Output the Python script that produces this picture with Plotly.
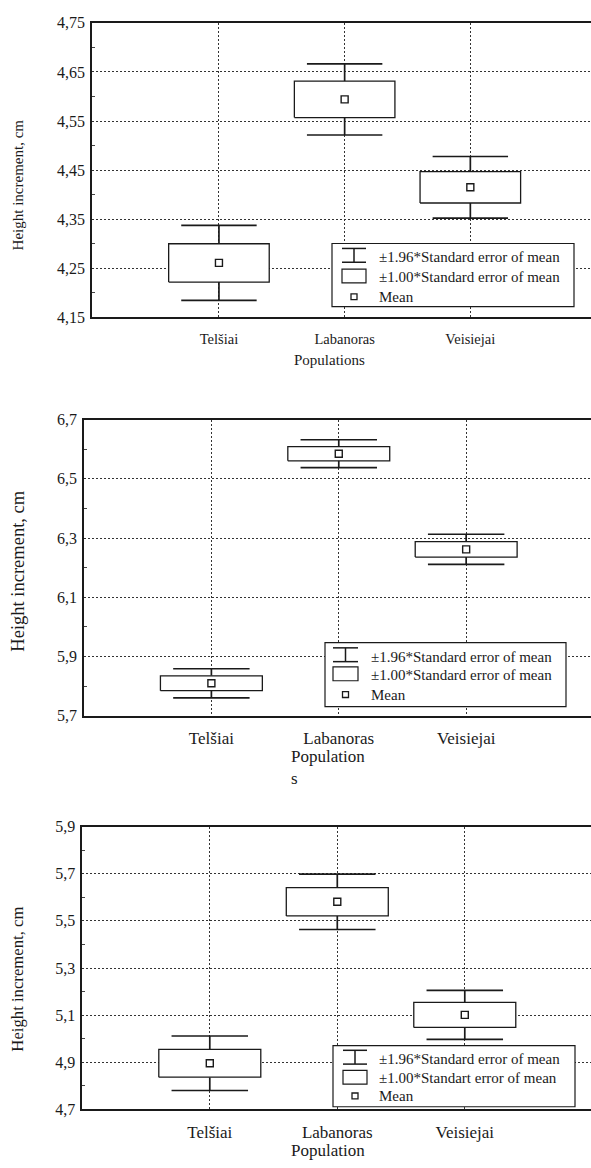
import plotly.graph_objects as go

# ---------------- data ----------------
categories = ["Telšiai", "Labanoras", "Veisiejai"]

mean_1 = [4.261, 4.594, 4.415]
se_1 = [0.039, 0.037, 0.032]

mean_2 = [5.810, 6.585, 6.262]
se_2 = [0.025, 0.024, 0.026]

mean_3 = [4.896, 5.581, 5.101]
se_3 = [0.059, 0.060, 0.053]

y_title = "Height increment, cm"
x_title_1 = "Populations"
x_title_2 = "Population<br>s"
x_title_3 = "Population"

legend_1 = ["±1.96*Standard error of mean", "±1.00*Standard error of mean", "Mean"]
legend_2 = ["±1.96*Standard error of mean", "±1.00*Standard error of mean", "Mean"]
legend_3 = ["±1.96*Standard error of mean", "±1.00*Standart error of mean", "Mean"]

WHISKER_K = 1.96

# ---------------- layout constants (pixels) ----------------
W, H = 591, 1168
FONT = "Liberation Serif"
INK = "#1a1a1a"
BOX_HALF = 0.40
CAP_HALF = 0.30


def fx(x):
    return x / W


def fy(y):
    return 1 - y / H


panels = [
    dict(mean=mean_1, se=se_1, left=92, top=15, bottom=314, xr=[-1.01, 2.96],
         yr=[4.15, 4.75], dtick=0.1, fmt=".2f", cat_font=14.5, cat_standoff=7,
         yt_font=15, yt_pos=(18, 180),
         xt=x_title_1, xt_font=15, xt_pos=(292, 357),
         leg=legend_1, leg_box=(332, 239, 574, 303), rows=[253, 273, 293],
         sym=(342, 366), text_x=377),
    dict(mean=mean_2, se=se_2, left=84, top=417.7, bottom=718.3, xr=[-1.0, 2.98],
         yr=[5.7, 6.7], dtick=0.2, fmt=".1f", cat_font=17, cat_standoff=6,
         yt_font=18.5, yt_pos=(18, 572),
         xt=x_title_2, xt_font=17, xt_pos=(289, 771),
         leg=legend_2, leg_box=(325, 644, 566, 709), rows=[658.3, 676.7, 696.7],
         sym=(333, 358), text_x=369),
    dict(mean=mean_3, se=se_3, left=82.3, top=830.7, bottom=1117.7, xr=[-1.0, 2.99],
         yr=[4.7, 5.9], dtick=0.2, fmt=".1f", cat_font=17, cat_standoff=6,
         yt_font=16.7, yt_pos=(18, 986),
         xt=x_title_3, xt_font=17, xt_pos=(289, 1159),
         leg=legend_3, leg_box=(333, 1053, 575, 1115), rows=[1066.7, 1086, 1104],
         sym=(343, 367), text_x=377),
]

fig = go.Figure()
shapes = []
annotations = []
layout_axes = {}

for k, p in enumerate(panels, start=1):
    xa = "x" if k == 1 else f"x{k}"
    ya = "y" if k == 1 else f"y{k}"
    m, s = p["mean"], p["se"]
    xs = list(range(len(categories)))

    # whiskers (stem + caps)
    wx, wy = [], []
    for i, (mi, si) in enumerate(zip(m, s)):
        hi, lo = mi + WHISKER_K * si, mi - WHISKER_K * si
        wx += [i, i, None, i - CAP_HALF, i + CAP_HALF, None,
               i, i, None, i - CAP_HALF, i + CAP_HALF, None]
        wy += [mi + si, hi, None, hi, hi, None,
               mi - si, lo, None, lo, lo, None]
    fig.add_trace(go.Scatter(x=wx, y=wy, mode="lines", xaxis=xa, yaxis=ya,
                             line=dict(color=INK, width=1.7), hoverinfo="skip",
                             showlegend=False))
    # boxes (±1 SE)
    bx, by = [], []
    for i, (mi, si) in enumerate(zip(m, s)):
        bx += [i - BOX_HALF, i + BOX_HALF, i + BOX_HALF, i - BOX_HALF, i - BOX_HALF, None]
        by += [mi - si, mi - si, mi + si, mi + si, mi - si, None]
    fig.add_trace(go.Scatter(x=bx, y=by, mode="lines", fill="toself",
                             fillcolor="white", xaxis=xa, yaxis=ya,
                             line=dict(color=INK, width=1.3), hoverinfo="skip",
                             showlegend=False))
    # means
    fig.add_trace(go.Scatter(x=xs, y=m, mode="markers", xaxis=xa, yaxis=ya,
                             marker=dict(symbol="square-open", size=7,
                                         color=INK, line=dict(width=1.4)),
                             showlegend=False))

    xd = [fx(p["left"]), 1.0]
    yd = [fy(p["bottom"]), fy(p["top"])]
    layout_axes["xaxis" if k == 1 else f"xaxis{k}"] = dict(
        domain=xd, anchor=ya, range=p["xr"], tickmode="array", tickvals=xs,
        ticktext=categories, showgrid=True, gridcolor="#333", gridwidth=1,
        griddash="2px,2px", zeroline=False, showline=True, mirror=True,
        linecolor=INK, linewidth=1.5, ticks="", ticklabelstandoff=p["cat_standoff"],
        tickfont=dict(family=FONT, size=p["cat_font"], color=INK), fixedrange=True)
    layout_axes["yaxis" if k == 1 else f"yaxis{k}"] = dict(
        domain=yd, anchor=xa, range=p["yr"], tick0=p["yr"][0], dtick=p["dtick"],
        tickformat=p["fmt"], showgrid=True, gridcolor="#333", gridwidth=1,
        griddash="2px,2px", zeroline=False, showline=True, mirror=False,
        linecolor=INK, linewidth=1.5, ticks="", ticklabelstandoff=2,
        tickfont=dict(family=FONT, size=16, color=INK), fixedrange=True,
        minor=dict(ticks="inside", ticklen=3, tickcolor="#444",
                   dtick=p["dtick"] / 2, showgrid=False))

    # y title
    annotations.append(dict(text=y_title, x=fx(p["yt_pos"][0]), y=fy(p["yt_pos"][1]),
                            xref="paper", yref="paper", textangle=-90, showarrow=False,
                            xanchor="center", yanchor="middle",
                            font=dict(family=FONT, size=p["yt_font"], color=INK)))
    # x title
    annotations.append(dict(text=p["xt"], x=fx(p["xt_pos"][0]), y=fy(p["xt_pos"][1]),
                            xref="paper", yref="paper", showarrow=False,
                            xanchor="left", yanchor="middle", align="left",
                            font=dict(family=FONT, size=p["xt_font"], color=INK)))

    # custom legend box
    x0, y0, x1, y1 = p["leg_box"]
    shapes.append(dict(type="rect", xref="paper", yref="paper",
                       x0=fx(x0), x1=fx(x1), y0=fy(y1), y1=fy(y0),
                       fillcolor="white", line=dict(color=INK, width=1.2), layer="above"))
    sx0, sx1 = p["sym"]
    smid = (sx0 + sx1) / 2
    r1, r2, r3 = p["rows"]
    for seg in [((sx0, r1 - 9), (sx1, r1 - 9)), ((smid, r1 - 9), (smid, r1 + 5)),
                ((sx0, r1 + 5), (sx1, r1 + 5))]:
        (a, b), (c, d) = seg
        shapes.append(dict(type="line", xref="paper", yref="paper",
                           x0=fx(a), y0=fy(b), x1=fx(c), y1=fy(d),
                           line=dict(color=INK, width=1.5), layer="above"))
    shapes.append(dict(type="rect", xref="paper", yref="paper",
                       x0=fx(sx0), x1=fx(sx1), y0=fy(r2 + 6), y1=fy(r2 - 8),
                       fillcolor="white", line=dict(color=INK, width=1.2), layer="above"))
    shapes.append(dict(type="rect", xref="paper", yref="paper",
                       x0=fx(smid - 3), x1=fx(smid + 3), y0=fy(r3 + 3), y1=fy(r3 - 3),
                       fillcolor="white", line=dict(color=INK, width=1.3), layer="above"))
    for txt, ry in zip(p["leg"], p["rows"]):
        annotations.append(dict(text=txt, x=fx(p["text_x"]), y=fy(ry),
                                xref="paper", yref="paper", showarrow=False,
                                xanchor="left", yanchor="middle",
                                font=dict(family=FONT, size=15, color=INK)))

fig.update_layout(
    width=W, height=H, margin=dict(l=0, r=0, t=0, b=0, pad=0),
    paper_bgcolor="white", plot_bgcolor="white", separators=", ",
    showlegend=False, shapes=shapes, annotations=annotations, **layout_axes)

fig.write_html("out.html", config={"displayModeBar": False},
               post_script="document.body.style.margin='0';"
                           "document.documentElement.style.overflow='hidden';")
